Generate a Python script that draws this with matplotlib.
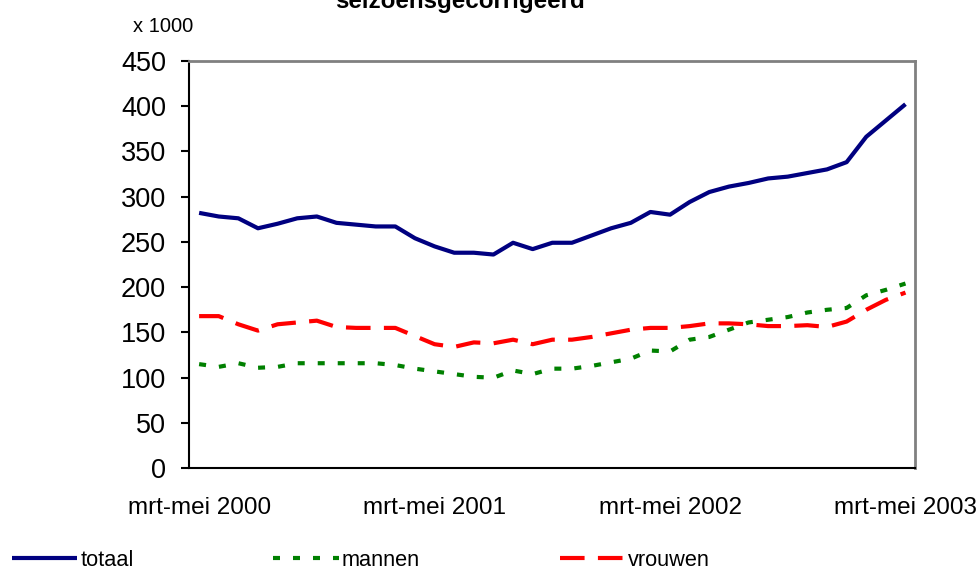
import matplotlib
matplotlib.use("Agg")
import matplotlib.pyplot as plt
import numpy as np

plt.rcParams['font.family'] = ['Liberation Sans', 'DejaVu Sans']

# Data (x 1000), monthly three-month periods mrt-mei 2000 .. mrt-mei 2003
totaal = [282, 278, 276, 265, 270, 276, 278, 271, 269, 267, 267, 254, 245, 238,
          238, 236, 249, 242, 249, 249, 257, 265, 271, 283, 280, 294, 305, 311,
          315, 320, 322, 326, 330, 338, 366, 384, 402]
mannen = [115, 112, 116, 111, 112, 116, 116, 116, 116, 116, 114, 110, 107, 104,
          101, 100, 108, 104, 110, 110, 113, 117, 121, 130, 129, 142, 145, 153,
          161, 164, 167, 172, 175, 177, 191, 197, 204]
vrouwen = [168, 168, 159, 152, 159, 161, 163, 156, 155, 155, 155, 146, 137, 134,
           139, 138, 142, 137, 142, 142, 145, 149, 153, 155, 155, 157, 160, 160,
           159, 157, 157, 158, 156, 162, 175, 186, 194]
xtick_pos = [0, 12, 24, 36]
xtick_labels = ['mrt-mei 2000', 'mrt-mei 2001', 'mrt-mei 2002', 'mrt-mei 2003']
yticks = list(range(0, 451, 50))
series_names = ['totaal', 'mannen', 'vrouwen']
title = 'seizoensgecorrigeerd'
unit = 'x 1000'

W, H = 980, 570
fig = plt.figure(figsize=(W / 100, H / 100), dpi=100)
ax = fig.add_axes([189.3 / W, (H - 468.3) / H, 726 / W, 407.6 / H])

x = np.arange(len(totaal))
l1, = ax.plot(x, totaal, color='#000080', lw=3, solid_capstyle='butt')
l2, = ax.plot(x, mannen, color='#008000', lw=3, linestyle=(0, (1.68, 3.12)))
l3, = ax.plot(x, vrouwen, color='#FF0000', lw=3, linestyle=(0, (5.9, 3.2)))

ax.set_xlim(-0.5, len(totaal) - 0.5)
ax.set_ylim(0, 450)
ax.set_yticks(yticks)
ax.set_xticks(xtick_pos)
ax.set_xticklabels(xtick_labels)
ax.tick_params(axis='y', direction='out', length=5.8, width=1.5, pad=11, labelsize=19.5, colors='black')
ax.tick_params(axis='x', length=0, pad=21, labelsize=17.5)

for s in ['left', 'bottom']:
    ax.spines[s].set_color('black')
    ax.spines[s].set_linewidth(1.5)
for s in ['top', 'right']:
    ax.spines[s].set_color('#808080')
    ax.spines[s].set_linewidth(2)

fig.text(460 / W, 1 - 8 / H, title, ha='center', va='baseline', fontsize=17.4, fontweight='bold')
fig.text(133 / W, 1 - 31.7 / H, unit, ha='left', va='baseline', fontsize=14.5)

fig.legend([l1, l2, l3], series_names, loc='center left',
           bbox_to_anchor=(12 / W, 1 - 560.5 / H), ncol=3, frameon=False,
           fontsize=15.7, handlelength=3.0, handletextpad=0.14, columnspacing=6.4,
           borderpad=0, borderaxespad=0)

fig.savefig('out.png', dpi=100)
